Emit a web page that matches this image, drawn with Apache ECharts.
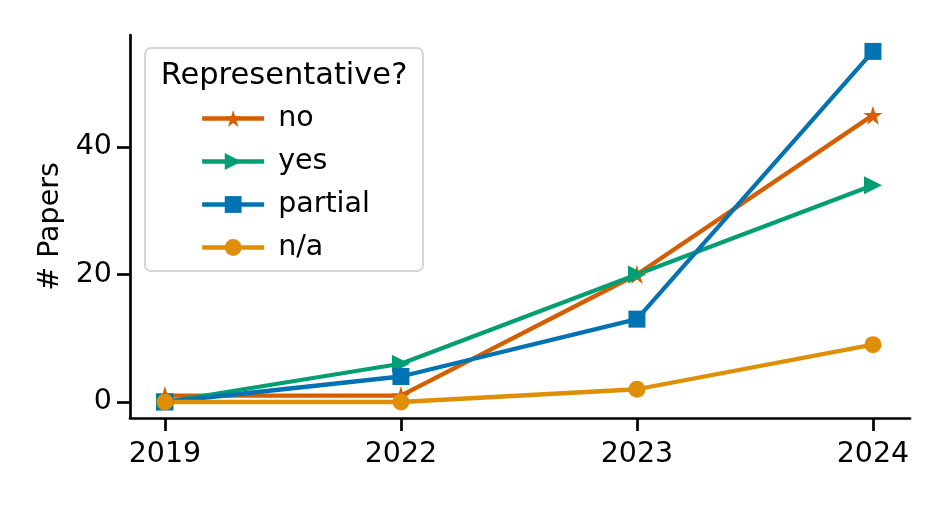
<!DOCTYPE html>
<html>
<head>
<meta charset="utf-8">
<script src="https://cdn.jsdelivr.net/npm/echarts@6/dist/echarts.min.js"></script>
<style>html,body{margin:0;padding:0;background:#fff;}#c{width:947px;height:505px;}</style>
</head>
<body>
<div id="c"></div>
<script>
const years = ['2019', '2022', '2023', '2024'];
const noVals = [1, 1, 20, 45];
const yesVals = [0, 6, 20, 34];
const partialVals = [0, 4, 13, 55];
const naVals = [0, 0, 2, 9];
const yTicks = [0, 20, 40];
const legendTitle = 'Representative?';

const FONT = 'DejaVu Sans';
const FS = 28.5;
const LW = 4.3;
const star = 'path://M50,0 L61.23,34.55 L97.55,34.55 L68.17,55.90 L79.39,90.45 L50,69.1 L20.61,90.45 L31.83,55.90 L2.45,34.55 L38.77,34.55 Z';
const triRight = 'path://M0,0 L100,50 L0,100 Z';

function mk(name, vals, color, symbol, size) {
  return {
    name: name, type: 'line',
    data: vals.map((v, i) => [i, v]),
    symbol: symbol, symbolSize: size,
    showAllSymbol: true,
    lineStyle: { color: color, width: LW },
    itemStyle: { color: color, borderWidth: 0 },
    emphasis: { disabled: true },
    animation: false
  };
}

const chart = echarts.init(document.getElementById('c'));
chart.setOption({
  animation: false,
  grid: { left: 130, right: 37, top: 35, bottom: 87, containLabel: false },
  xAxis: {
    type: 'value', min: -0.148, max: 3.157,
    axisLine: { show: true, onZero: false, lineStyle: { color: '#000', width: 2.7 } },
    axisTick: { show: true, length: 13, lineStyle: { color: '#000', width: 2.7 }, customValues: [0, 1, 2, 3] },
    axisLabel: { customValues: [0, 1, 2, 3], formatter: v => years[Math.round(v)], color: '#000', fontFamily: FONT, fontSize: FS, margin: 22 },
    splitLine: { show: false }
  },
  yAxis: {
    type: 'value', min: -2.51, max: 57.57,
    name: '# Papers', nameLocation: 'middle', nameGap: 63, nameRotate: 90,
    nameTextStyle: { color: '#000', fontFamily: FONT, fontSize: FS },
    axisLine: { show: true, onZero: false, lineStyle: { color: '#000', width: 2.7 } },
    axisTick: { show: true, length: 13, lineStyle: { color: '#000', width: 2.7 }, customValues: yTicks },
    axisLabel: { customValues: yTicks, color: '#000', fontFamily: FONT, fontSize: FS, margin: 18 },
    splitLine: { show: false }
  },
  graphic: [
    { type: 'rect', shape: { x: 145, y: 48, width: 278, height: 223, r: 6 }, style: { fill: 'rgba(255,255,255,0.85)', stroke: '#d6d6d6', lineWidth: 2 }, z: 90 },
    { type: 'text', x: 284, y: 76, style: { text: legendTitle, fill: '#000', font: '30.5px "' + FONT + '"', align: 'center', verticalAlign: 'middle' }, z: 91 }
  ],
  legend: {
    orient: 'vertical', left: 195, top: 98, itemWidth: 62, itemHeight: 21, itemGap: 12,
    z: 95,
    lineStyle: { width: LW },
    textStyle: { color: '#000', fontFamily: FONT, fontSize: FS, lineHeight: 31, padding: [0, 0, 0, 9] },
    data: ['no', 'yes', 'partial', 'n/a']
  },
  series: [
    mk('no', noVals, '#d55e00', star, 19),
    mk('yes', yesVals, '#029e73', triRight, 18),
    mk('partial', partialVals, '#0173b2', 'rect', 17),
    mk('n/a', naVals, '#de8f05', 'circle', 17)
  ]
});
</script>
</body>
</html>
